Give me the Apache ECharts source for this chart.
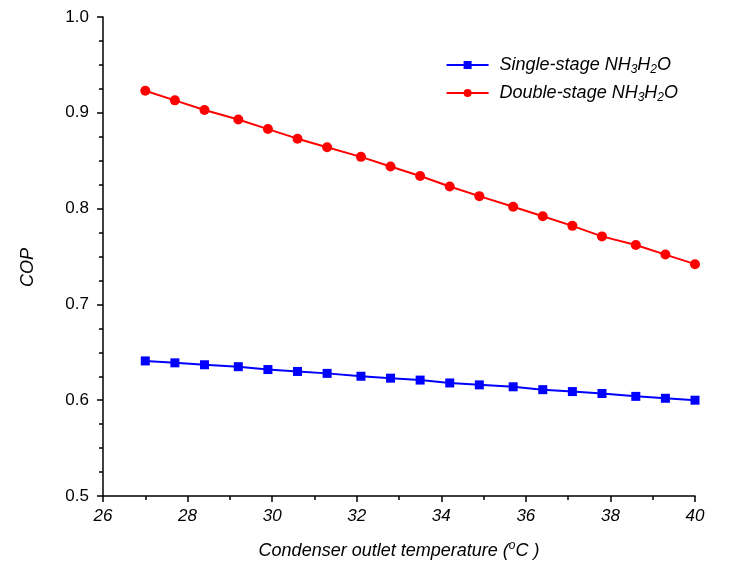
<!DOCTYPE html>
<html>
<head>
<meta charset="utf-8">
<script src="https://cdn.jsdelivr.net/npm/echarts@6/dist/echarts.min.js"></script>
<style>html,body{margin:0;padding:0;background:#fff}#c{width:729px;height:570px}</style>
</head>
<body>
<div id="c"></div>
<script>
var temps = [27, 27.7, 28.4, 29.2, 29.9, 30.6, 31.3, 32.1, 32.8, 33.5, 34.2, 34.9, 35.7, 36.4, 37.1, 37.8, 38.6, 39.3, 40];
var singleStage = [0.641, 0.639, 0.637, 0.635, 0.632, 0.630, 0.628, 0.625, 0.623, 0.621, 0.618, 0.616, 0.614, 0.611, 0.609, 0.607, 0.604, 0.602, 0.600];
var doubleStage = [0.923, 0.913, 0.903, 0.893, 0.883, 0.873, 0.864, 0.854, 0.844, 0.834, 0.823, 0.813, 0.802, 0.792, 0.782, 0.771, 0.762, 0.752, 0.742];
var seriesNames = ['Single-stage NH3H2O', 'Double-stage NH3H2O'];

function pairs(xs, ys) { return xs.map(function (x, i) { return [x, ys[i]]; }); }

var FONT = 'Liberation Sans, Arial, sans-serif';
var chart = echarts.init(document.getElementById('c'));
chart.setOption({
  animation: false,
  grid: { left: 103, right: 34, top: 17, bottom: 74 },
  legend: {
    right: 46, top: 51, orient: 'vertical', itemGap: 8,
    itemWidth: 42, itemHeight: 10,
    formatter: function (n) { return n.replace('NH3H2O', 'NH{sub|3}H{sub|2}O'); },
    textStyle: {
      fontFamily: FONT, fontSize: 18, fontStyle: 'italic', color: '#000', padding: [0, 0, 0, 6],
      rich: { sub: { fontFamily: FONT, fontSize: 12, fontStyle: 'italic', color: '#000', padding: [10, 0, 0, 0] } }
    }
  },
  xAxis: {
    type: 'value', min: 26, max: 40, interval: 2,
    name: 'Condenser outlet temperature ({sup|o}C )',
    nameLocation: 'middle', nameGap: 44,
    nameTextStyle: {
      fontFamily: FONT, fontSize: 18, fontStyle: 'italic', color: '#000',
      rich: { sup: { fontFamily: FONT, fontSize: 12, fontStyle: 'italic', color: '#000', padding: [0, 0, 9, 0] } }
    },
    axisLine: { lineStyle: { color: '#000', width: 1.5 } },
    axisTick: { inside: false, length: 6, lineStyle: { color: '#000', width: 1.5 } },
    minorTick: { show: true, splitNumber: 2, length: 4, lineStyle: { color: '#000', width: 1.5 } },
    axisLabel: { fontFamily: FONT, fontSize: 17, fontStyle: 'italic', color: '#000', margin: 12 },
    splitLine: { show: false }
  },
  yAxis: {
    type: 'value', min: 0.5, max: 1.0, interval: 0.1,
    name: 'COP', nameLocation: 'middle', nameGap: 66, nameRotate: 90,
    nameTextStyle: { fontFamily: FONT, fontSize: 18, fontStyle: 'italic', color: '#000', padding: [0, 0, 0, -22] },
    axisLine: { show: true, lineStyle: { color: '#000', width: 1.5 } },
    axisTick: { show: true, inside: false, length: 6, lineStyle: { color: '#000', width: 1.5 } },
    minorTick: { show: true, splitNumber: 4, length: 4, lineStyle: { color: '#000', width: 1.5 } },
    axisLabel: { fontFamily: FONT, fontSize: 17, color: '#000', margin: 14, formatter: function (v) { return v.toFixed(1); } },
    splitLine: { show: false }
  },
  series: [
    {
      name: seriesNames[0], type: 'line', data: pairs(temps, singleStage),
      symbol: 'rect', symbolSize: 9,
      lineStyle: { color: '#0000ff', width: 2 }, itemStyle: { color: '#0000ff' }
    },
    {
      name: seriesNames[1], type: 'line', data: pairs(temps, doubleStage),
      symbol: 'circle', symbolSize: 10,
      lineStyle: { color: '#ff0000', width: 2 }, itemStyle: { color: '#ff0000' }
    }
  ]
});
</script>
</body>
</html>
